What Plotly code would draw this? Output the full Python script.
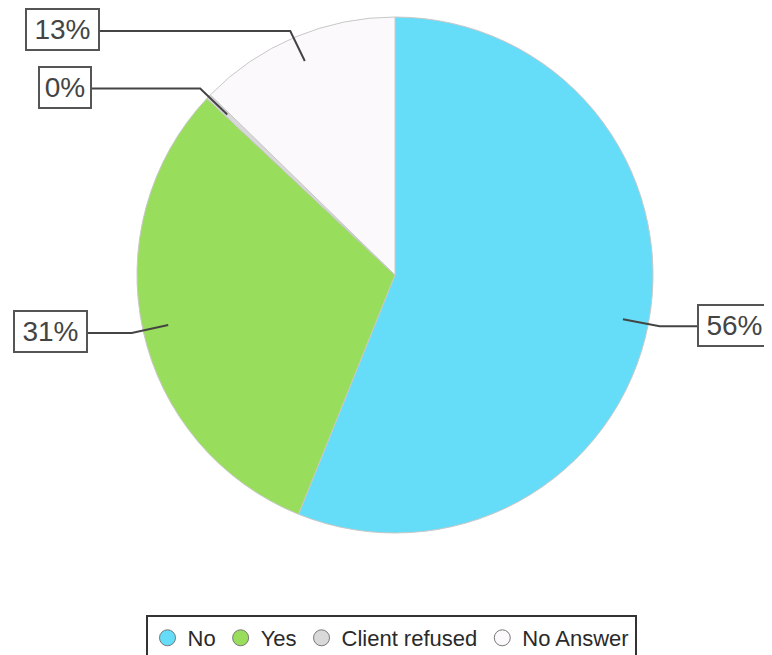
import math
import plotly.graph_objects as go

# ---- data ----
categories = ["No", "Yes", "Client refused", "No Answer"]
values = [56.1, 30.9, 0.3, 12.7]
colors = ["#66DDF8", "#99DD5C", "#D9D9D9", "#FCF9FC"]

# ---- layout constants (screen pixels; page body adds an 8px offset) ----
W, H = 772, 655
OFF = 8
CX, CY, R = 395, 275, 258
# label anchor x per slice (screen pixel) and side
label_x = [697, 88, 92, 100]
label_side = ["left", "right", "right", "right"]
LABEL_FONT = 28


def px(x):
    return (x - OFF) / W


def py(y):
    return 1 - (y - OFF) / H


fig = go.Figure()
fig.add_trace(go.Pie(
    labels=categories, values=values, sort=False, direction="clockwise",
    rotation=0, marker=dict(colors=colors, line=dict(color="#C8C8C8", width=1)),
    textinfo="none", hoverinfo="label+percent", showlegend=False,
    domain=dict(x=[px(CX - R), px(CX + R)], y=[py(CY + R), py(CY - R)]),
))

# legend entries as circle markers
for c, col in zip(categories, colors):
    fig.add_trace(go.Scatter(
        x=[None], y=[None], mode="markers", name=c,
        marker=dict(symbol="circle", size=16, color=col,
                    line=dict(color="#777777", width=1)),
    ))

total = sum(values)
cum = 0.0
shapes = []
annotations = []
min_y = OFF + LABEL_FONT / 2 + 9
for i, v in enumerate(values):
    mid = (cum + v / 2) / total * 2 * math.pi
    cum += v
    dx, dy = math.sin(mid), -math.cos(mid)
    x0, y0 = CX + 0.9 * R * dx, CY + 0.9 * R * dy
    x1, y1 = CX + 1.045 * R * dx, CY + 1.045 * R * dy
    ly = max(y1, min_y)
    lx = label_x[i]
    shapes.append(dict(type="path", xref="paper", yref="paper",
                       path=f"M {px(x0)},{py(y0)} L {px(x1)},{py(ly)} L {px(lx)},{py(ly)}",
                       line=dict(color="#444444", width=2)))
    pct = round(v / total * 100)
    txt = f"{pct}%"
    annotations.append(dict(
        x=px(lx), y=py(ly - 1), xref="paper", yref="paper",
        text=txt, showarrow=False, width=21 * len(txt), align="center",
        xanchor=label_side[i], yanchor="middle",
        font=dict(family="Liberation Sans, Arial", size=LABEL_FONT, color="#444444"),
        bordercolor="#555555", borderwidth=2, borderpad=4, bgcolor="white",
    ))

fig.update_layout(
    width=W, height=H, margin=dict(l=0, r=0, t=0, b=0),
    paper_bgcolor="white", plot_bgcolor="white",
    xaxis=dict(visible=False), yaxis=dict(visible=False),
    shapes=shapes, annotations=annotations,
    legend=dict(orientation="h", x=px(391), xanchor="center", y=py(638), yanchor="middle",
                bordercolor="#333333", borderwidth=2,
                font=dict(family="Liberation Sans, Arial", size=22, color="#2a2a2a"),
                itemwidth=30, tracegroupgap=0),
    showlegend=True,
)

fig.write_html("out.html")
